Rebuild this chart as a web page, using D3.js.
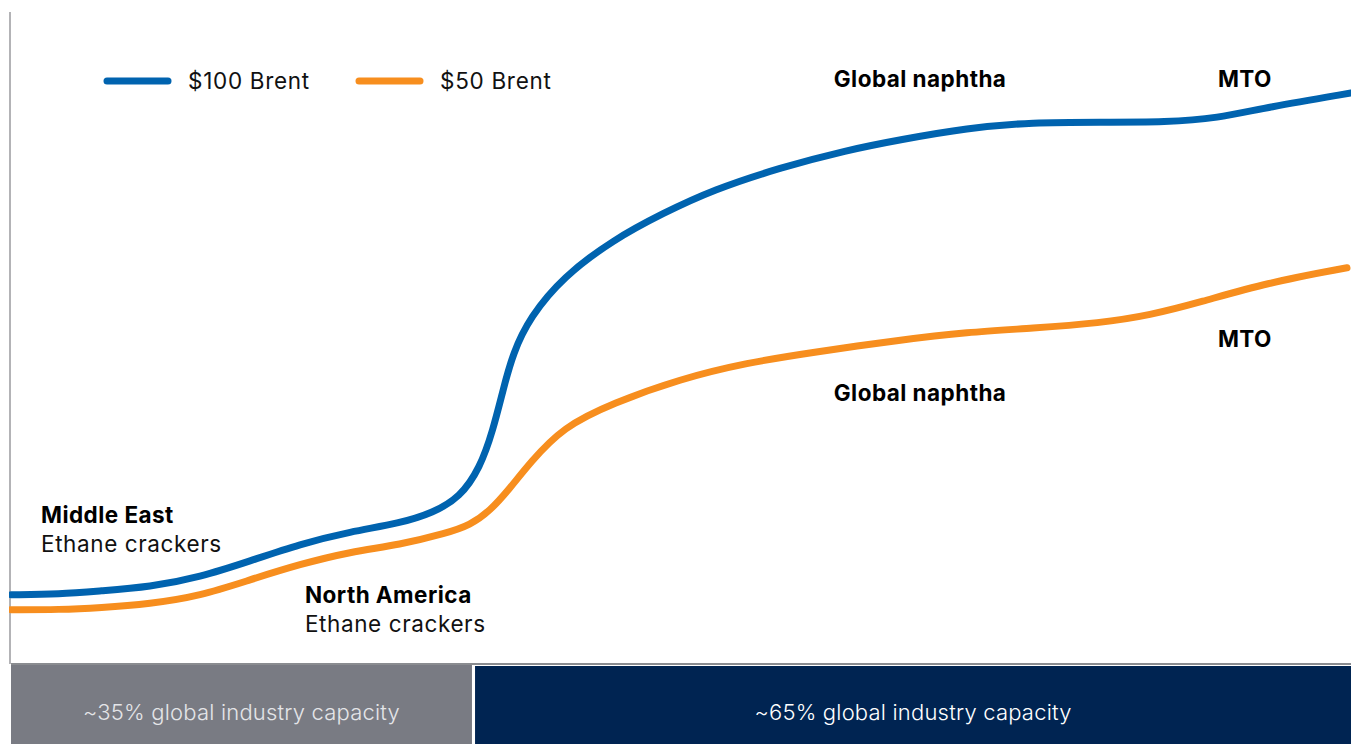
<!DOCTYPE html>
<html>
<head>
<meta charset="utf-8">
<script src="https://cdn.jsdelivr.net/npm/d3@7/dist/d3.min.js"></script>
<style>
  html, body { margin: 0; padding: 0; background: #ffffff; }
  svg { display: block; font-family: Inter, "Noto Sans", sans-serif; }
</style>
</head>
<body>
<svg id="chart" width="1351" height="744"></svg>
<script>
// Cumulative global capacity (%) along the cost curve
const capacity100 = [0, 3.66, 6.64, 10.37, 14.10, 17.84, 21.57, 25.30, 29.03, 31.49, 33.51, 35.0, 35.97, 36.72, 37.46, 38.73, 41.19, 44.93, 48.66, 52.39, 57.39, 62.39, 66.34, 71.34, 76.27, 81.27, 86.27, 90.0, 93.73, 100];
// Relative cash cost index at $100 Brent
const cost100 = [10.5, 10.6, 11.1, 11.7, 13.2, 15.7, 18.3, 20.2, 21.5, 23.1, 25.5, 30.0, 35.8, 42.0, 47.7, 53.2, 59.4, 65.1, 69.2, 72.8, 76.2, 78.9, 80.5, 82.3, 83.2, 83.2, 83.2, 83.8, 85.5, 87.7];

const capacity50 = [0, 3.66, 6.64, 10.37, 14.10, 17.84, 21.57, 25.30, 29.03, 32.54, 34.25, 35.75, 37.24, 38.73, 41.19, 44.93, 49.93, 54.93, 59.85, 66.34, 71.34, 76.27, 81.27, 85.0, 88.73, 93.73, 99.7];
// Relative cash cost index at $50 Brent
const cost50 = [8.2, 8.2, 8.5, 9.1, 10.3, 12.8, 15.2, 17.1, 18.2, 20.0, 21.2, 23.4, 26.9, 30.8, 36.3, 40.0, 43.7, 46.2, 47.8, 49.7, 50.9, 51.5, 52.3, 53.5, 55.5, 58.5, 60.8];

const seriesNames = ["$100 Brent", "$50 Brent"];
const seriesColors = ["#0063AF", "#F78E1E"];

// Capacity bands below the curve
const bandLabels = ["~35% global industry capacity", "~65% global industry capacity"];
const bandStarts = [0, 34.63];
const bandEnds = [34.4, 100];
const bandColors = ["#797B83", "#002452"];

// Curve annotations
const annotations = [
  { bold: "Middle East", sub: "Ethane crackers", x: 2.24, y: 21.5 },
  { bold: "North America", sub: "Ethane crackers", x: 21.94, y: 9.2 },
  { bold: "Global naphtha", sub: null, x: 61.4, y: 88.6 },
  { bold: "Global naphtha", sub: null, x: 61.4, y: 40.3 },
  { bold: "MTO", sub: null, x: 90.07, y: 88.6 },
  { bold: "MTO", sub: null, x: 90.07, y: 48.6 }
];

const svg = d3.select("#chart");
const W = 1351, H = 744;
const x = d3.scaleLinear().domain([0, 100]).range([11, 1351]);
const y = d3.scaleLinear().domain([0, 100]).range([663, 13]);

// Bottom capacity bands
const bandTop = 664, bandBottom = H;
svg.append("line")
  .attr("x1", x(0)).attr("x2", W)
  .attr("y1", 664).attr("y2", 664)
  .attr("stroke", "#8a8c90").attr("stroke-width", 2);

bandLabels.forEach((lbl, i) => {
  const top = i === 0 ? bandTop + 1 : bandTop + 2;
  svg.append("rect")
    .attr("x", x(bandStarts[i]))
    .attr("y", top)
    .attr("width", x(bandEnds[i]) - x(bandStarts[i]))
    .attr("height", bandBottom - top)
    .attr("fill", bandColors[i]);
  svg.append("text")
    .attr("x", (x(bandStarts[i]) + x(bandEnds[i])) / 2)
    .attr("y", 720)
    .attr("text-anchor", "middle")
    .attr("fill", i === 0 ? "#e4e5e8" : "#ffffff")
    .attr("font-size", 22)
    .attr("font-weight", 300)
    .attr("letter-spacing", 0.2)
    .text(lbl);
});

// Vertical axis line
svg.append("line")
  .attr("x1", 10).attr("x2", 10)
  .attr("y1", 12).attr("y2", 664)
  .attr("stroke", "#9a9a9e").attr("stroke-width", 1.5);

// Cost curves
const line = d3.line()
  .x(d => x(d[0]))
  .y(d => y(d[1]))
  .curve(d3.curveBasis);

const curves = [
  d3.zip(capacity100, cost100),
  d3.zip(capacity50, cost50)
];

svg.append("clipPath").attr("id", "plotclip")
  .append("rect").attr("x", 9).attr("y", 0).attr("width", W - 9).attr("height", 663);

[1, 0].forEach(i => {
  svg.append("path")
    .attr("d", line(curves[i]))
    .attr("clip-path", "url(#plotclip)")
    .attr("fill", "none")
    .attr("stroke", seriesColors[i])
    .attr("stroke-width", 7)
    .attr("stroke-linecap", "round")
    .attr("stroke-linejoin", "round");
});

// Legend
const legendX = [107, 359];
seriesNames.forEach((name, i) => {
  const g = svg.append("g").attr("transform", `translate(${legendX[i]},81)`);
  g.append("line")
    .attr("x1", 0).attr("x2", 61)
    .attr("stroke", seriesColors[i])
    .attr("stroke-width", 7)
    .attr("stroke-linecap", "round");
  g.append("text")
    .attr("x", 81).attr("y", 8)
    .attr("font-size", 22.5)
    .attr("letter-spacing", 0.7)
    .attr("fill", "#111")
    .text(name);
});

// Annotations
annotations.forEach(a => {
  const t = svg.append("text")
    .attr("x", x(a.x)).attr("y", y(a.y))
    .attr("font-size", 22.5)
    .attr("fill", "#000");
  t.append("tspan")
    .attr("font-weight", 700)
    .attr("letter-spacing", 0.45)
    .text(a.bold);
  if (a.sub) {
    t.append("tspan")
      .attr("x", x(a.x)).attr("dy", 29)
      .attr("font-weight", 400)
      .attr("letter-spacing", 0.6)
      .attr("fill", "#111")
      .text(a.sub);
  }
});
</script>
</body>
</html>
